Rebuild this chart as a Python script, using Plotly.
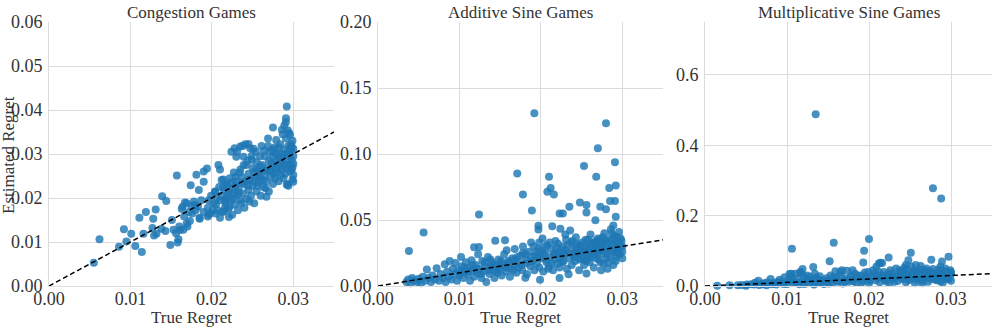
import plotly.graph_objects as go

# ---------------- data ----------------
panel_titles = ["Congestion Games", "Additive Sine Games", "Multiplicative Sine Games"]
x_ticks = [0.00, 0.01, 0.02, 0.03]
y_ticks_congestion = [0.00, 0.01, 0.02, 0.03, 0.04, 0.05, 0.06]
y_ticks_additive = [0.00, 0.05, 0.10, 0.15, 0.20]
y_ticks_multiplicative = [0.0, 0.2, 0.4, 0.6]

congestion_points = [
    (0.0055, 0.0053), (0.0062, 0.0106), (0.0086, 0.0089), (0.0092, 0.0129), (0.0095, 0.0101),
    (0.0101, 0.0119), (0.0106, 0.0091), (0.0111, 0.0155), (0.0114, 0.0077), (0.0116, 0.0119),
    (0.0119, 0.0168), (0.0128, 0.0153), (0.0127, 0.0132), (0.0131, 0.0174), (0.0129, 0.0115),
    (0.0132, 0.0119), (0.0139, 0.0204), (0.0144, 0.0193), (0.0138, 0.0130), (0.0143, 0.0125),
    (0.0149, 0.0093), (0.0151, 0.0150), (0.0157, 0.0251), (0.0158, 0.0099), (0.0159, 0.0106),
    (0.0161, 0.0127), (0.0164, 0.0180), (0.0167, 0.0190), (0.0169, 0.0142), (0.0174, 0.0229),
    (0.0176, 0.0165), (0.0179, 0.0184), (0.0181, 0.0253), (0.0184, 0.0218), (0.0185, 0.0153),
    (0.0190, 0.0260), (0.0190, 0.0237), (0.0194, 0.0267), (0.0196, 0.0195), (0.0198, 0.0165),
    (0.0202, 0.0188), (0.0204, 0.0214), (0.0208, 0.0275), (0.0210, 0.0265), (0.0212, 0.0241),
    (0.0216, 0.0195), (0.0221, 0.0157), (0.0222, 0.0180), (0.0224, 0.0305), (0.0228, 0.0313),
    (0.0230, 0.0294), (0.0235, 0.0317), (0.0238, 0.0318), (0.0239, 0.0294), (0.0245, 0.0323),
    (0.0247, 0.0313), (0.0249, 0.0287), (0.0255, 0.0264), (0.0267, 0.0203), (0.0269, 0.0335),
    (0.0275, 0.0360), (0.0292, 0.0408), (0.0291, 0.0381), (0.0291, 0.0373), (0.0293, 0.0354),
    (0.0296, 0.0343), (0.0298, 0.0317), (0.0300, 0.0237), (0.0292, 0.0230),
    (0.0205, 0.0185), (0.0207, 0.0172), (0.0210, 0.0195), (0.0212, 0.0205), (0.0213, 0.0168),
    (0.0215, 0.0218), (0.0217, 0.0188), (0.0218, 0.0232), (0.0220, 0.0175), (0.0220, 0.0208),
    (0.0222, 0.0245), (0.0223, 0.0195), (0.0225, 0.0162), (0.0225, 0.0220), (0.0227, 0.0258),
    (0.0228, 0.0185), (0.0230, 0.0205), (0.0230, 0.0238), (0.0232, 0.0172), (0.0233, 0.0222),
    (0.0235, 0.0195), (0.0235, 0.0265), (0.0237, 0.0248), (0.0238, 0.0210), (0.0240, 0.0178),
    (0.0240, 0.0232), (0.0242, 0.0275), (0.0243, 0.0198), (0.0245, 0.0218), (0.0245, 0.0255),
    (0.0247, 0.0242), (0.0248, 0.0205), (0.0250, 0.0228), (0.0250, 0.0268), (0.0252, 0.0188),
    (0.0253, 0.0248), (0.0255, 0.0215), (0.0255, 0.0282), (0.0257, 0.0235), (0.0258, 0.0260),
    (0.0260, 0.0205), (0.0260, 0.0245), (0.0262, 0.0275), (0.0263, 0.0225), (0.0265, 0.0295),
    (0.0265, 0.0252), (0.0267, 0.0238), (0.0268, 0.0268), (0.0270, 0.0215), (0.0270, 0.0285),
    (0.0271, 0.0305), (0.0272, 0.0248), (0.0273, 0.0262), (0.0275, 0.0232), (0.0275, 0.0295),
    (0.0276, 0.0275), (0.0277, 0.0315), (0.0278, 0.0245), (0.0280, 0.0258), (0.0280, 0.0285),
    (0.0281, 0.0302), (0.0282, 0.0238), (0.0283, 0.0270), (0.0284, 0.0322), (0.0285, 0.0252),
    (0.0285, 0.0292), (0.0286, 0.0265), (0.0287, 0.0345), (0.0288, 0.0278), (0.0288, 0.0245),
    (0.0289, 0.0310), (0.0290, 0.0255), (0.0290, 0.0298), (0.0291, 0.0335), (0.0292, 0.0268),
    (0.0292, 0.0285), (0.0293, 0.0232), (0.0294, 0.0318), (0.0295, 0.0275), (0.0295, 0.0348),
    (0.0296, 0.0260), (0.0296, 0.0295), (0.0297, 0.0308), (0.0298, 0.0285), (0.0298, 0.0265),
    (0.0299, 0.0330), (0.0300, 0.0278), (0.0300, 0.0252), (0.0300, 0.0295), (0.0300, 0.0312),
    (0.0299, 0.0242), (0.0294, 0.0228), (0.0289, 0.0365), (0.0286, 0.0355), (0.0279, 0.0332),
    (0.0274, 0.0310), (0.0269, 0.0318), (0.0264, 0.0308), (0.0259, 0.0295), (0.0254, 0.0305),
    (0.0249, 0.0296), (0.0244, 0.0285), (0.0239, 0.0275), (0.0234, 0.0258), (0.0229, 0.0248),
    (0.0224, 0.0235), (0.0219, 0.0228), (0.0214, 0.0242), (0.0209, 0.0225), (0.0204, 0.0215),
    (0.0199, 0.0205), (0.0195, 0.0178), (0.0190, 0.0168), (0.0187, 0.0195), (0.0183, 0.0180),
    (0.0180, 0.0172), (0.0178, 0.0192), (0.0175, 0.0182), (0.0172, 0.0168), (0.0169, 0.0188),
    (0.0166, 0.0158), (0.0163, 0.0175), (0.0196, 0.0162), (0.0201, 0.0172), (0.0216, 0.0178),
    (0.0226, 0.0198), (0.0236, 0.0188), (0.0246, 0.0192), (0.0256, 0.0228), (0.0266, 0.0222),
    (0.0276, 0.0255), (0.0261, 0.0318), (0.0251, 0.0312), (0.0241, 0.0322), (0.0231, 0.0305),
    (0.0185, 0.0155), (0.0195, 0.0158), (0.0205, 0.0165), (0.0215, 0.0170), (0.0210, 0.0155),
    (0.0153, 0.0128), (0.0156, 0.0120), (0.0160, 0.0135), (0.0165, 0.0128), (0.0170, 0.0135),
    (0.0173, 0.0148), (0.0283, 0.0290), (0.0279, 0.0268), (0.0271, 0.0262), (0.0263, 0.0240),
    (0.0257, 0.0250), (0.0251, 0.0238), (0.0243, 0.0240), (0.0233, 0.0212), (0.0227, 0.0210),
    (0.0218, 0.0200), (0.0297, 0.0322), (0.0293, 0.0300), (0.0287, 0.0300), (0.0282, 0.0315),
    (0.0206, 0.0200), (0.0214, 0.0225), (0.0221, 0.0215), (0.0229, 0.0228), (0.0237, 0.0235),
    (0.0244, 0.0228), (0.0252, 0.0258), (0.0259, 0.0272), (0.0266, 0.0262), (0.0273, 0.0280),
    (0.0278, 0.0300), (0.0284, 0.0282), (0.0290, 0.0275), (0.0295, 0.0305), (0.0299, 0.0270),
]

additive_points = [
    (0.0192, 0.1309), (0.0280, 0.1233), (0.0270, 0.1043), (0.0291, 0.0937), (0.0253, 0.0909),
    (0.0171, 0.0853), (0.0210, 0.0828), (0.0268, 0.0828), (0.0292, 0.0762), (0.0284, 0.0742),
    (0.0212, 0.0742), (0.0208, 0.0714), (0.0216, 0.0694), (0.0178, 0.0694), (0.0285, 0.0643),
    (0.0291, 0.0643), (0.0248, 0.0633), (0.0256, 0.0613), (0.0235, 0.0600), (0.0273, 0.0600),
    (0.0280, 0.0582), (0.0189, 0.0572), (0.0256, 0.0557), (0.0223, 0.0549), (0.0227, 0.0549),
    (0.0124, 0.0542), (0.0292, 0.0524), (0.0267, 0.0499), (0.0056, 0.0405), (0.0038, 0.0266),
    (0.0197, 0.0456), (0.0197, 0.0428), (0.0214, 0.0453), (0.0224, 0.0433), (0.0289, 0.0458),
    (0.0118, 0.0294), (0.0124, 0.0296), (0.0144, 0.0342), (0.0156, 0.0347), (0.0181, 0.0063),
    (0.0199, 0.0048), (0.0223, 0.0060), (0.0256, 0.0094), (0.0234, 0.0089),
    (0.0035, 0.003), (0.0037, 0.005), (0.0040, 0.002), (0.0042, 0.006), (0.0045, 0.004),
    (0.0048, 0.003), (0.0050, 0.0055), (0.0053, 0.002), (0.0055, 0.007), (0.0058, 0.004),
    (0.0060, 0.0125), (0.0062, 0.006), (0.0065, 0.003), (0.0067, 0.008), (0.0070, 0.005),
    (0.0072, 0.0135), (0.0075, 0.004), (0.0077, 0.009), (0.0080, 0.006), (0.0082, 0.0165),
    (0.0083, 0.003), (0.0085, 0.011), (0.0087, 0.007), (0.0088, 0.019), (0.0090, 0.005),
    (0.0092, 0.013), (0.0094, 0.009), (0.0095, 0.0175), (0.0097, 0.004), (0.0099, 0.012),
    (0.0100, 0.008), (0.0102, 0.022), (0.0103, 0.015), (0.0105, 0.006), (0.0107, 0.011),
    (0.0108, 0.018), (0.0110, 0.009), (0.0112, 0.014), (0.0113, 0.004), (0.0115, 0.0195),
    (0.0117, 0.012), (0.0118, 0.007), (0.0120, 0.016), (0.0122, 0.010), (0.0123, 0.024),
    (0.0125, 0.013), (0.0127, 0.006), (0.0128, 0.019), (0.0130, 0.011), (0.0132, 0.015),
    (0.0133, 0.003), (0.0135, 0.022), (0.0137, 0.009), (0.0138, 0.014), (0.0140, 0.018),
    (0.0142, 0.012), (0.0143, 0.006), (0.0145, 0.016), (0.0147, 0.010), (0.0148, 0.020),
    (0.0150, 0.013), (0.0152, 0.008), (0.0153, 0.017), (0.0155, 0.024), (0.0157, 0.011),
    (0.0158, 0.015), (0.0160, 0.019), (0.0162, 0.007), (0.0163, 0.013), (0.0165, 0.021),
    (0.0167, 0.016), (0.0168, 0.028), (0.0170, 0.010), (0.0172, 0.018), (0.0173, 0.014),
    (0.0175, 0.023), (0.0177, 0.012), (0.0178, 0.030), (0.0180, 0.017), (0.0182, 0.020),
    (0.0183, 0.009), (0.0185, 0.026), (0.0187, 0.015), (0.0188, 0.033), (0.0190, 0.019),
    (0.0192, 0.012), (0.0193, 0.023), (0.0195, 0.017), (0.0197, 0.028), (0.0198, 0.014),
    (0.0200, 0.021), (0.0202, 0.036), (0.0203, 0.011), (0.0205, 0.025), (0.0207, 0.018),
    (0.0208, 0.031), (0.0210, 0.015), (0.0212, 0.022), (0.0213, 0.028), (0.0215, 0.012),
    (0.0217, 0.020), (0.0218, 0.034), (0.0220, 0.017), (0.0222, 0.026), (0.0223, 0.014),
    (0.0225, 0.023), (0.0227, 0.030), (0.0228, 0.019), (0.0230, 0.039), (0.0232, 0.013),
    (0.0233, 0.025), (0.0235, 0.021), (0.0237, 0.033), (0.0238, 0.016), (0.0240, 0.028),
    (0.0242, 0.019), (0.0243, 0.037), (0.0245, 0.024), (0.0247, 0.012), (0.0248, 0.031),
    (0.0250, 0.021), (0.0252, 0.027), (0.0253, 0.016), (0.0255, 0.035), (0.0257, 0.023),
    (0.0258, 0.029), (0.0260, 0.018), (0.0262, 0.033), (0.0263, 0.025), (0.0265, 0.014),
    (0.0267, 0.030), (0.0268, 0.021), (0.0270, 0.036), (0.0272, 0.027), (0.0273, 0.018),
    (0.0275, 0.032), (0.0277, 0.024), (0.0278, 0.040), (0.0280, 0.029), (0.0282, 0.013),
    (0.0283, 0.035), (0.0285, 0.022), (0.0287, 0.031), (0.0288, 0.026), (0.0290, 0.038),
    (0.0292, 0.019), (0.0293, 0.033), (0.0295, 0.028), (0.0297, 0.024), (0.0298, 0.036),
    (0.0300, 0.030), (0.0300, 0.021), (0.0299, 0.034), (0.0296, 0.041), (0.0291, 0.027),
    (0.0286, 0.043), (0.0281, 0.021), (0.0276, 0.037), (0.0271, 0.031), (0.0266, 0.026),
    (0.0261, 0.039), (0.0256, 0.019), (0.0251, 0.033), (0.0246, 0.029), (0.0241, 0.022),
    (0.0236, 0.042), (0.0231, 0.027), (0.0226, 0.018), (0.0221, 0.032), (0.0216, 0.024),
    (0.0211, 0.033), (0.0206, 0.020), (0.0201, 0.027), (0.0196, 0.022), (0.0191, 0.030),
    (0.0186, 0.018), (0.0181, 0.024), (0.0176, 0.016), (0.0171, 0.022), (0.0166, 0.012),
    (0.0161, 0.018), (0.0156, 0.014), (0.0151, 0.019), (0.0146, 0.011), (0.0141, 0.016),
    (0.0136, 0.012), (0.0131, 0.018), (0.0126, 0.009), (0.0121, 0.013), (0.0116, 0.016),
    (0.0111, 0.011), (0.0106, 0.014), (0.0101, 0.010),
    (0.0254, 0.026), (0.0259, 0.022), (0.0264, 0.032), (0.0269, 0.024), (0.0274, 0.028),
    (0.0279, 0.034), (0.0284, 0.027), (0.0289, 0.032), (0.0294, 0.025), (0.0297, 0.030),
    (0.0283, 0.018), (0.0273, 0.035), (0.0263, 0.028), (0.0253, 0.020), (0.0243, 0.028),
    (0.0233, 0.031), (0.0223, 0.021), (0.0213, 0.017), (0.0203, 0.024), (0.0274, 0.012),
    (0.0289, 0.016), (0.0300, 0.026), (0.0294, 0.037), (0.0287, 0.040), (0.0280, 0.025),
    (0.0268, 0.034), (0.0260, 0.029), (0.0249, 0.025), (0.0239, 0.034), (0.0229, 0.024),
    (0.0219, 0.029), (0.0209, 0.013), (0.0198, 0.033), (0.0188, 0.022), (0.0178, 0.025),
    (0.0168, 0.020), (0.0158, 0.027), (0.0148, 0.015), (0.0138, 0.020),
    (0.0271, 0.020), (0.0277, 0.017), (0.0292, 0.022), (0.0266, 0.033), (0.0258, 0.035),
    (0.0244, 0.032), (0.0231, 0.035), (0.0218, 0.025), (0.0206, 0.030), (0.0194, 0.026),
    (0.0270, 0.026), (0.0276, 0.030), (0.0282, 0.033), (0.0288, 0.035), (0.0296, 0.033),
    (0.0262, 0.022), (0.0255, 0.030), (0.0247, 0.020), (0.0240, 0.024), (0.0226, 0.027),
]

multiplicative_points = [
    (0.0135, 0.4876), (0.0278, 0.2780), (0.0288, 0.2486), (0.0200, 0.1333), (0.0157, 0.1229),
    (0.0106, 0.1057), (0.0194, 0.1000), (0.0251, 0.0943), (0.0297, 0.0829), (0.0224, 0.0810),
    (0.0276, 0.0743), (0.0248, 0.0733), (0.0152, 0.0705), (0.0289, 0.0695), (0.0193, 0.0667),
    (0.0132, 0.0543), (0.0119, 0.0486), (0.0212, 0.0638), (0.0214, 0.0657), (0.0105, 0.0350),
    (0.0015, 0.001), (0.0030, 0.002), (0.0045, 0.003), (0.0050, 0.001), (0.0060, 0.004),
    (0.0065, 0.015), (0.0070, 0.005), (0.0075, 0.002), (0.0080, 0.020), (0.0083, 0.007),
    (0.0087, 0.004), (0.0090, 0.012), (0.0093, 0.008), (0.0097, 0.025), (0.0100, 0.006),
    (0.0103, 0.034), (0.0105, 0.015), (0.0108, 0.009), (0.0110, 0.035), (0.0113, 0.020),
    (0.0115, 0.005), (0.0118, 0.012), (0.0120, 0.030), (0.0123, 0.018), (0.0125, 0.008),
    (0.0128, 0.025), (0.0130, 0.014), (0.0133, 0.004), (0.0135, 0.020), (0.0138, 0.010),
    (0.0140, 0.028), (0.0143, 0.016), (0.0145, 0.006), (0.0148, 0.022), (0.0150, 0.012),
    (0.0153, 0.030), (0.0155, 0.009), (0.0158, 0.018), (0.0160, 0.025), (0.0163, 0.014),
    (0.0165, 0.040), (0.0168, 0.007), (0.0170, 0.020), (0.0173, 0.043), (0.0175, 0.012),
    (0.0178, 0.028), (0.0180, 0.017), (0.0183, 0.035), (0.0185, 0.009), (0.0188, 0.022),
    (0.0190, 0.030), (0.0193, 0.014), (0.0195, 0.038), (0.0198, 0.020), (0.0200, 0.008),
    (0.0203, 0.026), (0.0205, 0.045), (0.0208, 0.016), (0.0210, 0.032), (0.0213, 0.011),
    (0.0215, 0.024), (0.0218, 0.040), (0.0220, 0.018), (0.0223, 0.029), (0.0225, 0.009),
    (0.0228, 0.035), (0.0230, 0.021), (0.0233, 0.050), (0.0235, 0.014), (0.0238, 0.030),
    (0.0240, 0.025), (0.0242, 0.042), (0.0245, 0.011), (0.0247, 0.033), (0.0250, 0.019),
    (0.0252, 0.055), (0.0254, 0.028), (0.0256, 0.008), (0.0258, 0.038), (0.0260, 0.022),
    (0.0262, 0.046), (0.0264, 0.015), (0.0266, 0.031), (0.0268, 0.025), (0.0270, 0.040),
    (0.0272, 0.012), (0.0274, 0.034), (0.0276, 0.020), (0.0278, 0.048), (0.0280, 0.028),
    (0.0282, 0.016), (0.0284, 0.037), (0.0286, 0.023), (0.0288, 0.044), (0.0290, 0.010),
    (0.0292, 0.031), (0.0294, 0.019), (0.0296, 0.039), (0.0298, 0.026), (0.0300, 0.034),
    (0.0300, 0.015), (0.0299, 0.045), (0.0295, 0.028), (0.0291, 0.036), (0.0287, 0.013),
    (0.0283, 0.030), (0.0279, 0.022), (0.0275, 0.042), (0.0271, 0.027), (0.0267, 0.017),
    (0.0263, 0.036), (0.0259, 0.027), (0.0255, 0.044), (0.0251, 0.030), (0.0248, 0.016),
    (0.0244, 0.036), (0.0241, 0.020), (0.0237, 0.045), (0.0234, 0.027), (0.0231, 0.012),
    (0.0227, 0.022), (0.0224, 0.036), (0.0221, 0.013), (0.0216, 0.030), (0.0211, 0.022),
    (0.0206, 0.035), (0.0201, 0.015), (0.0196, 0.027), (0.0191, 0.010), (0.0186, 0.030),
    (0.0181, 0.013), (0.0176, 0.022), (0.0171, 0.013), (0.0166, 0.030), (0.0161, 0.012),
    (0.0156, 0.024), (0.0151, 0.007), (0.0146, 0.015), (0.0141, 0.010), (0.0136, 0.024),
    (0.0131, 0.008), (0.0126, 0.017), (0.0121, 0.006), (0.0116, 0.040), (0.0111, 0.010),
    (0.0106, 0.024), (0.0101, 0.014), (0.0096, 0.006), (0.0091, 0.018), (0.0086, 0.010),
    (0.0081, 0.005), (0.0076, 0.011), (0.0071, 0.008), (0.0066, 0.003), (0.0061, 0.009),
    (0.0056, 0.005), (0.0051, 0.004), (0.0040, 0.002),
    (0.0253, 0.038), (0.0257, 0.018), (0.0261, 0.033), (0.0265, 0.008), (0.0269, 0.044),
    (0.0273, 0.026), (0.0277, 0.035), (0.0281, 0.019), (0.0285, 0.047), (0.0289, 0.027),
    (0.0293, 0.041), (0.0297, 0.020), (0.0300, 0.040), (0.0246, 0.050), (0.0239, 0.040),
    (0.0232, 0.028), (0.0226, 0.045), (0.0219, 0.020), (0.0212, 0.040), (0.0257, 0.060),
    (0.0263, 0.057), (0.0287, 0.055), (0.0293, 0.050), (0.0270, 0.050), (0.0245, 0.060),
    (0.0243, 0.052), (0.0199, 0.040), (0.0209, 0.055), (0.0216, 0.065), (0.0180, 0.045),
    (0.0167, 0.045), (0.0159, 0.042), (0.0125, 0.030), (0.0117, 0.037), (0.0134, 0.035),
]

diagonal_x = [0.0, 0.035]
diagonal_y = [0.0, 0.035]

x_range = [0.0, 0.035]
y_ranges = [[0.0, 0.06], [0.0, 0.20], [0.0, 0.75]]
y_tick_sets = [y_ticks_congestion, y_ticks_additive, y_ticks_multiplicative]
y_formats = [".2f", ".2f", ".1f"]
all_points = [congestion_points, additive_points, multiplicative_points]

# ---------------- figure ----------------
W, H = 996, 328
FONT = "Liberation Serif"
GRID = "#dcdcdc"
TEXT = "#333333"

x_px = [(49, 334), (378, 663), (705, 992)]
y_top_px, y_bot_px = 22, 286
y_dom = [(H - y_bot_px) / H, (H - y_top_px) / H]

fig = go.Figure()
for i, pts in enumerate(all_points):
    sfx = "" if i == 0 else str(i + 1)
    xs = [p[0] for p in pts]
    ys = [p[1] for p in pts]
    fig.add_trace(go.Scatter(
        x=xs, y=ys, mode="markers", xaxis="x" + sfx, yaxis="y" + sfx,
        marker=dict(size=8, color="rgba(31,119,180,0.82)", line=dict(width=0)),
        showlegend=False, hoverinfo="skip", cliponaxis=False))
    fig.add_trace(go.Scatter(
        x=diagonal_x, y=diagonal_y, mode="lines", xaxis="x" + sfx, yaxis="y" + sfx,
        line=dict(color="black", width=1.5, dash="5px,3px"),
        showlegend=False, hoverinfo="skip"))

    dom_x = [x_px[i][0] / W, x_px[i][1] / W]
    fig.layout["xaxis" + sfx] = dict(
        domain=dom_x, anchor="y" + sfx, range=x_range, tickvals=x_ticks,
        tickformat=".2f", showgrid=True, gridcolor=GRID, gridwidth=1,
        zeroline=False, showline=True, linecolor=GRID, linewidth=1,
        ticks="", ticklabelstandoff=-4,
        tickfont=dict(family=FONT, size=18, color=TEXT),
        automargin=False, fixedrange=True)
    fig.layout["yaxis" + sfx] = dict(
        domain=y_dom, anchor="x" + sfx, range=y_ranges[i], tickvals=y_tick_sets[i],
        tickformat=y_formats[i], showgrid=True, gridcolor=GRID, gridwidth=1,
        zeroline=False, showline=True, linecolor=GRID, linewidth=1,
        ticks="outside", ticklen=2, tickcolor="white",
        tickfont=dict(family=FONT, size=18, color=TEXT),
        automargin=False, fixedrange=True)

    cx = (x_px[i][0] + x_px[i][1]) / 2 / W
    fig.add_annotation(text=panel_titles[i], x=cx, y=(H - 12) / H, xref="paper", yref="paper",
                       xanchor="center", yanchor="middle", showarrow=False,
                       font=dict(family=FONT, size=17, color=TEXT))
    fig.add_annotation(text="True Regret", x=cx, y=(H - 317) / H, xref="paper", yref="paper",
                       xanchor="center", yanchor="middle", showarrow=False,
                       font=dict(family=FONT, size=17, color=TEXT))

fig.add_annotation(text="Estimated Regret", x=8 / W, y=(H - 155) / H, xref="paper", yref="paper",
                   xanchor="center", yanchor="middle", textangle=-90, showarrow=False,
                   font=dict(family=FONT, size=17, color=TEXT))

fig.update_layout(
    width=W, height=H, margin=dict(l=0, r=0, t=0, b=0),
    paper_bgcolor="white", plot_bgcolor="white",
    font=dict(family=FONT, color=TEXT),
)

fig.write_html("out.html", include_plotlyjs=True, config={"displayModeBar": False})
